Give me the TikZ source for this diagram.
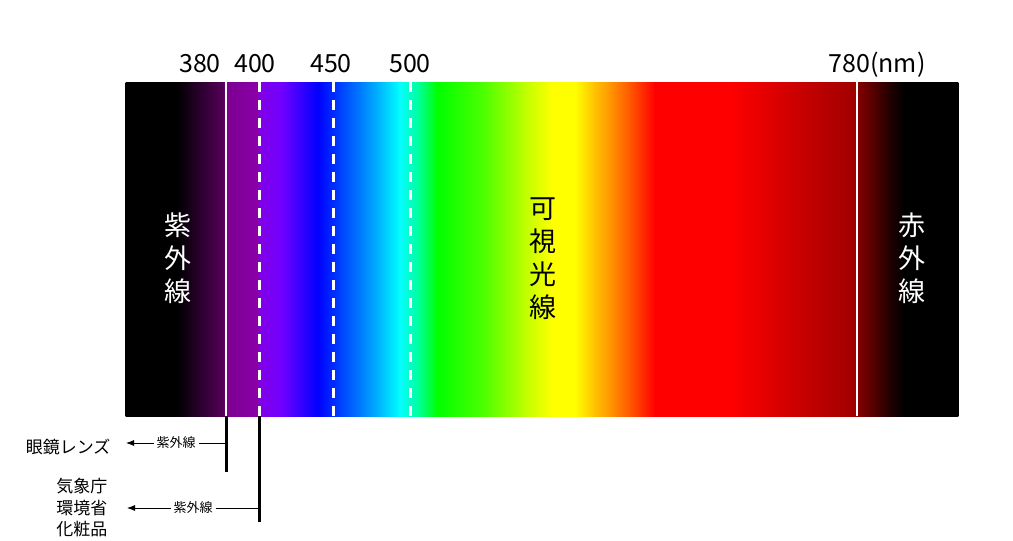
\documentclass[tikz,border=0pt]{standalone}
\usepackage{fontspec}
\setmainfont{Noto Sans CJK JP}
\usetikzlibrary{arrows.meta, positioning}
\definecolor{uvdark}{RGB}{85,0,90}
\definecolor{purple1}{RGB}{124,0,144}
\definecolor{purple2}{RGB}{138,0,170}
\definecolor{violet1}{RGB}{128,0,232}
\definecolor{violet2}{RGB}{112,0,255}
\definecolor{blue1}{RGB}{0,0,255}
\definecolor{blue2}{RGB}{0,64,255}
\definecolor{azure1}{RGB}{0,128,255}
\definecolor{sky1}{RGB}{0,192,255}
\definecolor{cyan1}{RGB}{0,255,255}
\definecolor{mint1}{RGB}{0,255,144}
\definecolor{green1}{RGB}{0,255,0}
\definecolor{lime1}{RGB}{80,255,0}
\definecolor{lime2}{RGB}{190,255,0}
\definecolor{yellow1}{RGB}{255,255,0}
\definecolor{amber1}{RGB}{255,192,0}
\definecolor{orange1}{RGB}{255,144,0}
\definecolor{orange2}{RGB}{255,80,0}
\definecolor{red1}{RGB}{255,0,0}
\definecolor{red2}{RGB}{208,0,0}
\definecolor{red3}{RGB}{160,0,0}
\definecolor{red4}{RGB}{128,0,0}
\definecolor{red5}{RGB}{80,0,0}
\definecolor{red6}{RGB}{32,0,0}

\begin{document}
\begin{tikzpicture}[x=1pt, y=-1pt,
  wavelbl/.style={anchor=base, inner sep=0pt, font=\fontsize{25}{28}\selectfont},
  bandlbl/.style={align=center, font=\fontsize{27}{33}\selectfont},
  uselbl/.style={align=center, font=\fontsize{17}{21.5}\selectfont},
  raylbl/.style={fill=white, inner sep=3pt, font=\fontsize{13}{15}\selectfont},
  edgeline/.style={white, line width=2pt},
  cutline/.style={white, line width=3pt, dash pattern=on 10pt off 8pt},
  marker/.style={black, line width=3pt},
  ray/.style={-{Latex[length=8pt,width=6pt]}, line width=0.8pt}]
  \useasboundingbox (0,0) rectangle (1013,541);

  % spectrum band
  \foreach \x/\c [remember=\x as \lastx (initially 126), remember=\c as \lastc (initially black)] in
    {177/black, 223/uvdark, 227/purple1, 257/purple2, 261/violet1, 282/violet2,
     318/blue1, 340/blue2, 362/azure1, 382/sky1, 400/cyan1, 420/mint1, 437/green1,
     485/lime1, 525/lime2, 552/yellow1, 575/yellow1, 595/amber1, 612/orange1, 632/orange2,
     655/red1, 730/red1, 790/red2, 855/red3, 859/red4, 875/red5, 890/red6,
     905/black, 958/black}
    \shade[left color=\lastc, right color=\c] (\lastx-0.4,82) rectangle (\x+0.4,416);

  \coordinate (b380) at (226,82);  \coordinate (e380) at (226,416);
  \coordinate (b400) at (259,82);  \coordinate (e400) at (259,416);
  \coordinate (b450) at (333,82);  \coordinate (e450) at (333,416);
  \coordinate (b500) at (410,82);  \coordinate (e500) at (410,416);
  \coordinate (b780) at (857,82);  \coordinate (e780) at (857,416);

  \draw[edgeline] (b380) -- (e380);
  \draw[edgeline] (b780) -- (e780);
  \draw[cutline] (b400) -- (e400);
  \draw[cutline] (b450) -- (e450);
  \draw[cutline] (b500) -- (e500);

  % wavelengths
  \node[wavelbl] (w380) at (200,72) {380};
  \node[wavelbl] (w400) at (255,72) {400};
  \node[wavelbl] (w450) at (331,72) {450};
  \node[wavelbl] (w500) at (410,72) {500};
  \node[wavelbl] (w780) at (877,72) {780(nm)};

  \node[bandlbl, white] (uv) at (178,258) {紫\\外\\線};
  \node[bandlbl] (vis) at (543,259) {可\\視\\光\\線};
  \node[bandlbl, white] (ir) at (912,258) {赤\\外\\線};

  % cut-off markers below the band
  \draw[marker] (e380) -- ++(0,56) coordinate (m380);
  \draw[marker] (e400) -- ++(0,106) coordinate (m400);

  \coordinate (r1) at (226,443);
  \coordinate (t1) at (126,443);
  \coordinate (r2) at (259,508);
  \coordinate (t2) at (127,508);
  \draw[ray] (r1) -- node[raylbl] {紫外線} (t1);
  \draw[ray] (r2) -- node[raylbl] {紫外線} (t2);

  \node[uselbl, left=12pt of t1, yshift=-4pt] (lens) {眼鏡レンズ};
  \node[uselbl, left=16pt of t2] (agency) {気象庁\\環境省\\化粧品};
\end{tikzpicture}
\end{document}
